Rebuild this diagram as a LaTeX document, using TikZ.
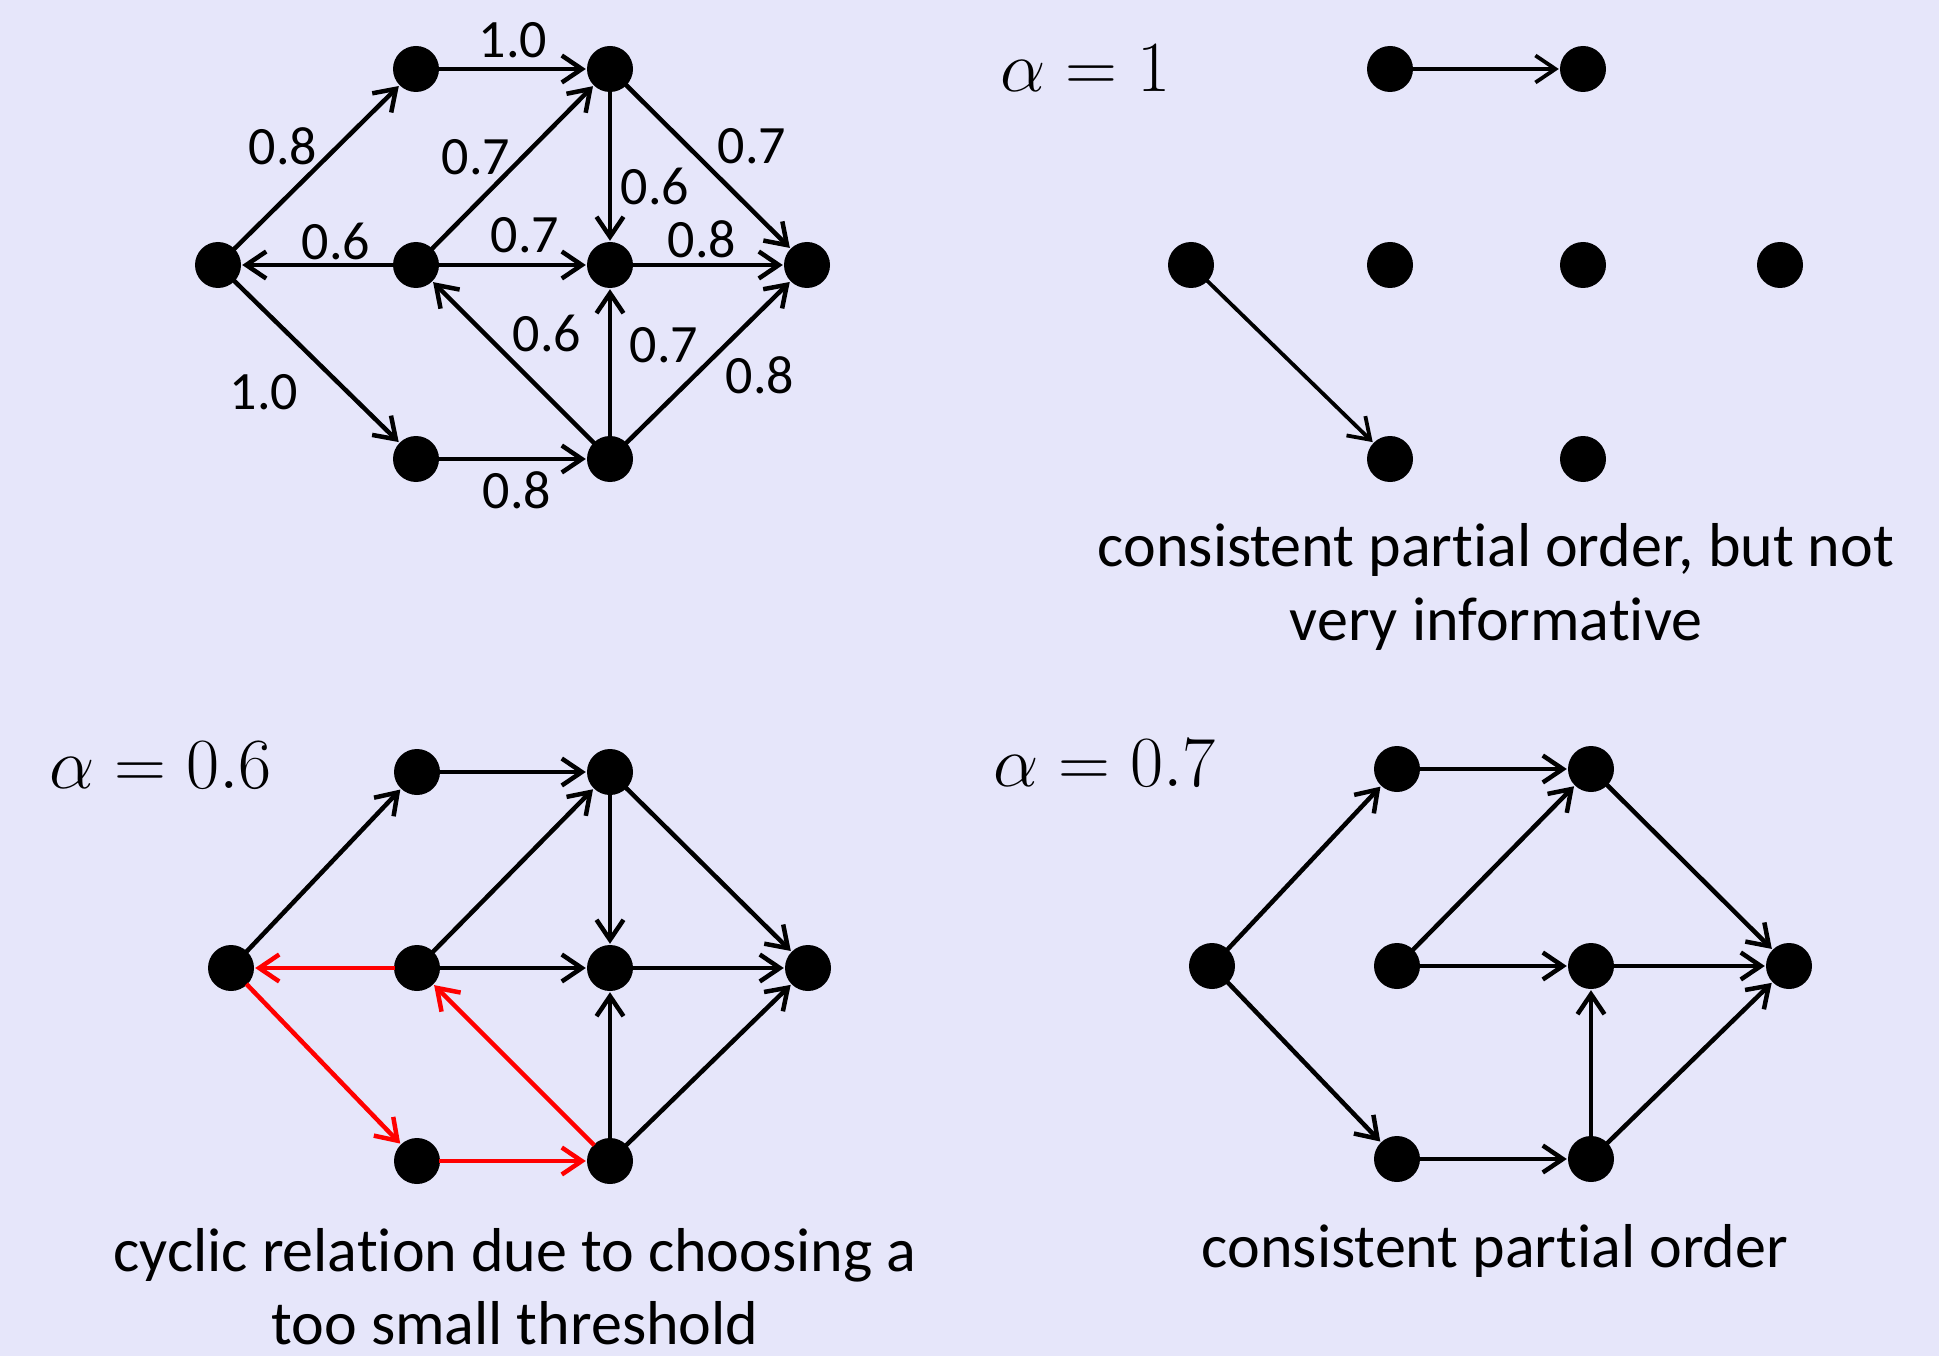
\documentclass[tikz,border=0pt]{standalone}
\usepackage{fix-cm}
\usepackage{fontspec}
\setmainfont{Carlito}[Ligatures={NoCommon}]
\usetikzlibrary{arrows.meta}
\definecolor{bg}{RGB}{230,230,250}
\tikzset{
  dot/.style={circle, fill=black, minimum size=46pt, inner sep=0pt},
  arr/.style={-{Straight Barb[length=20pt,width=27pt]}, line width=4.5pt, shorten >=1pt, shorten <=-1pt},
  redarr/.style={arr, draw=red},
  lab/.style={font=\fontsize{54}{64}\selectfont, inner sep=0pt},
  captext/.style={font=\fontsize{62}{74}\selectfont, inner sep=0pt, anchor=base},
  alab/.style={font=\fontsize{72}{84}\selectfont, inner sep=0pt, anchor=base west}
}
\begin{document}
\begin{tikzpicture}[x=1pt,y=-1pt]
\fill[bg] (0,0) rectangle (1939,1356);
\useasboundingbox (0,0) rectangle (1939,1356);

% ---------- graph 1 (top-left, weighted) ----------
\node[dot] (L1) at (218,265) {};
\node[dot] (A1) at (416,69) {};
\node[dot] (B1) at (610,69) {};
\node[dot] (M1) at (416,265) {};
\node[dot] (C1) at (610,265) {};
\node[dot] (R1) at (807,265) {};
\node[dot] (D1) at (416,459) {};
\node[dot] (E1) at (610,459) {};
\draw[arr] (L1) -- (A1);
\draw[arr] (A1) -- (B1);
\draw[arr] (M1) -- (B1);
\draw[arr] (B1) -- (C1);
\draw[arr] (B1) -- (R1);
\draw[arr] (M1) -- (L1);
\draw[arr] (M1) -- (C1);
\draw[arr] (C1) -- (R1);
\draw[arr] (E1) -- (M1);
\draw[arr] (E1) -- (C1);
\draw[arr] (E1) -- (R1);
\draw[arr] (L1) -- (D1);
\draw[arr] (D1) -- (E1);
\node[lab] (w1) at (513,40) {1.0};
\node[lab] (w2) at (283,146) {0.8};
\node[lab] (w3) at (476,157) {0.7};
\node[lab] (w4) at (655,186) {0.6};
\node[lab] (w5) at (752,146) {0.7};
\node[lab] (w6) at (336,241) {0.6};
\node[lab] (w7) at (525,235) {0.7};
\node[lab] (w8) at (702,239) {0.8};
\node[lab] (w9) at (547,333) {0.6};
\node[lab] (w10) at (664,345) {0.7};
\node[lab] (w11) at (760,375) {0.8};
\node[lab] (w12) at (264,392) {1.0};
\node[lab] (w13) at (517,490) {0.8};

% ---------- graph 2 (top-right, alpha = 1) ----------
\node[alab] (al1) at (1000,92) {$\alpha = 1$};
\node[dot] (L2) at (1191,265) {};
\node[dot] (A2) at (1390,69) {};
\node[dot] (B2) at (1583,69) {};
\node[dot] (M2) at (1390,265) {};
\node[dot] (C2) at (1583,265) {};
\node[dot] (R2) at (1780,265) {};
\node[dot] (D2) at (1390,459) {};
\node[dot] (E2) at (1583,459) {};
\draw[arr, line width=3.8pt] (A2) -- (B2);
\draw[arr, line width=3.8pt] (L2) -- (D2);
\node[captext] (c2a) at (1496,566) {consistent partial order, but not};
\node[captext] (c2b) at (1496,640) {very informative};

% ---------- graph 3 (bottom-left, alpha = 0.6) ----------
\node[alab] (al3) at (49,788) {$\alpha = 0.6$};
\node[dot] (L3) at (231,968) {};
\node[dot] (A3) at (417,772) {};
\node[dot] (B3) at (610,772) {};
\node[dot] (M3) at (417,968) {};
\node[dot] (C3) at (610,968) {};
\node[dot] (R3) at (808,968) {};
\node[dot] (D3) at (417,1161) {};
\node[dot] (E3) at (610,1161) {};
\draw[arr] (L3) -- (A3);
\draw[arr] (A3) -- (B3);
\draw[arr] (M3) -- (B3);
\draw[arr] (B3) -- (C3);
\draw[arr] (B3) -- (R3);
\draw[arr] (M3) -- (C3);
\draw[arr] (C3) -- (R3);
\draw[arr] (E3) -- (C3);
\draw[arr] (E3) -- (R3);
\draw[redarr] (M3) -- (L3);
\draw[redarr] (L3) -- (D3);
\draw[redarr] (D3) -- (E3);
\draw[redarr] (E3) -- (M3);
\node[captext] (c3a) at (515,1271) {cyclic relation due to choosing a};
\node[captext] (c3b) at (515,1344) {too small threshold};

% ---------- graph 4 (bottom-right, alpha = 0.7) ----------
\node[alab] (al4) at (993,786) {$\alpha = 0.7$};
\node[dot] (L4) at (1212,966) {};
\node[dot] (A4) at (1397,769) {};
\node[dot] (B4) at (1591,769) {};
\node[dot] (M4) at (1397,966) {};
\node[dot] (C4) at (1591,966) {};
\node[dot] (R4) at (1789,966) {};
\node[dot] (D4) at (1397,1159) {};
\node[dot] (E4) at (1591,1159) {};
\draw[arr] (L4) -- (A4);
\draw[arr] (A4) -- (B4);
\draw[arr] (M4) -- (B4);
\draw[arr] (B4) -- (R4);
\draw[arr] (M4) -- (C4);
\draw[arr] (C4) -- (R4);
\draw[arr] (E4) -- (C4);
\draw[arr] (E4) -- (R4);
\draw[arr] (L4) -- (D4);
\draw[arr] (D4) -- (E4);
\node[captext] (c4) at (1495,1267) {consistent partial order};
\end{tikzpicture}
\end{document}
